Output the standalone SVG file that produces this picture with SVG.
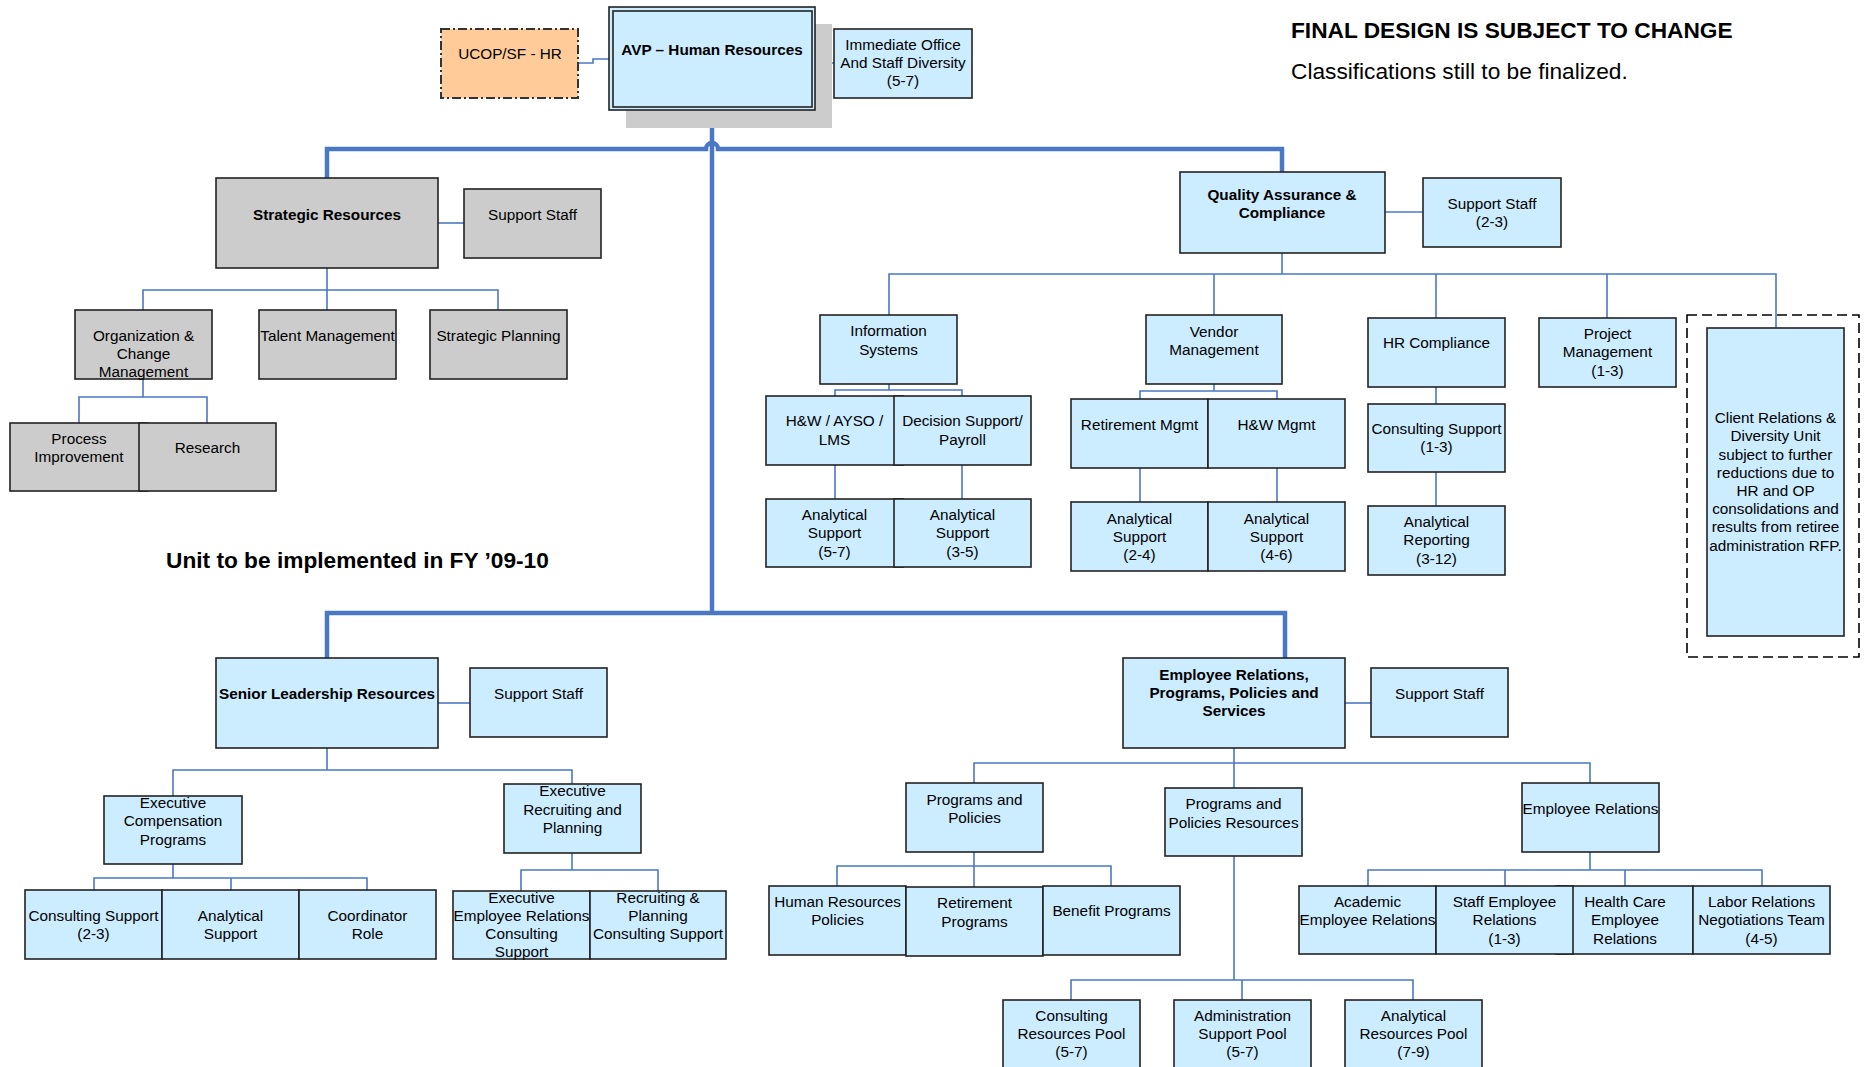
<svg xmlns="http://www.w3.org/2000/svg" width="1865" height="1067" viewBox="0 0 1865 1067">
<style>
text{font-family:"Liberation Sans",Arial,sans-serif;font-size:15.3px;text-anchor:middle;fill:#000}
.b{font-weight:bold}
.big{font-size:22.7px;text-anchor:start}
.n{fill:#CCECFF;stroke:#222;stroke-width:1.6}
.g{fill:#CCCCCC;stroke:#222;stroke-width:1.6}
.thin{fill:none;stroke:#4A78C4;stroke-width:1.6}
.thick{fill:none;stroke:#4A78C4;stroke-width:4.5}
</style>
<rect width="1865" height="1067" fill="#fff"/>
<g id="connectors">
<path class="thick" d="M712,110 V613"/>
<path class="thick" d="M327,178 V149 H706 A6,6 0 0 1 718,149 H1282 V172"/>
<path class="thick" d="M327,658 V613 H1285 V658"/>
<path class="thin" d="M578,63 H593 V59 H609"/>
<path class="thin" d="M815,59 H825 V63 H834"/>
<path class="thin" d="M438,223 H464"/>
<path class="thin" d="M327,268 V310 M143,310 V290 H498 V310"/>
<path class="thin" d="M143,379 V397 M79,423 V397 H207 V423"/>
<path class="thin" d="M1385,212 H1423"/>
<path class="thin" d="M1282,253 V274 M889,315 V274 H1776 V328 M1214,274 V315 M1436,274 V318 M1607,274 V318"/>
<path class="thin" d="M889,384 V390 M835,396 V390 H962 V396 M835,465 V499 M962,465 V499"/>
<path class="thin" d="M1214,384 V391 M1140,399 V391 H1277 V399 M1140,468 V502 M1277,468 V502"/>
<path class="thin" d="M1436,387 V404 M1436,472 V506"/>
<path class="thin" d="M438,703 H470"/>
<path class="thin" d="M327,748 V770 M173,796 V770 H572 V784"/>
<path class="thin" d="M173,864 V878 M94,890 V878 H367 V890 M231,878 V890"/>
<path class="thin" d="M572,853 V870 M521,891 V870 H658 V891"/>
<path class="thin" d="M1345,703 H1371"/>
<path class="thin" d="M1234,748 V788 M974,783 V763 H1590 V783"/>
<path class="thin" d="M974,852 V887 M837,886 V866 H1111 V886"/>
<path class="thin" d="M1234,856 V980 M1071,1000 V980 H1413 V1000 M1242,980 V1000"/>
<path class="thin" d="M1590,852 V870 M1368,886 V870 H1762 V886 M1505,870 V886 M1625,870 V886"/>
</g>
<g id="ucop"><rect x="441" y="29" width="137" height="69" fill="#FFCC99" stroke="#333" stroke-width="2" stroke-dasharray="9,3,2,3"/><text x="510" y="59">UCOP/SF - HR</text></g>
<g id="avp"><rect x="626" y="24" width="206" height="104" fill="#CCCCCC"/><rect x="609" y="7" width="206" height="103" class="n"/><rect x="613" y="11" width="199" height="96" class="n"/><text class="b" x="712" y="54.5">AVP – Human Resources</text></g>
<g id="immediate"><rect x="834" y="29" width="138" height="69" class="n"/><text x="903" y="49.5">Immediate Office</text><text x="903" y="67.5">And Staff Diversity</text><text x="903" y="86">(5-7)</text></g>
<text class="b big" x="1291" y="38">FINAL DESIGN IS SUBJECT TO CHANGE</text>
<text class="big" x="1291" y="79">Classifications still to be finalized.</text>
<g id="strategic"><rect x="216" y="178" width="222" height="90" class="g"/><text class="b" x="327" y="219.5">Strategic Resources</text></g>
<g id="sr-support"><rect x="464" y="189" width="137" height="69" class="g"/><text x="532.5" y="219.5">Support Staff</text></g>
<g id="org-change"><rect x="75" y="310" width="137" height="69" class="g"/><text x="143.5" y="340.5">Organization &amp;</text><text x="143.5" y="358.5">Change</text><text x="143.5" y="376.5">Management</text></g>
<g id="talent"><rect x="259" y="310" width="137" height="69" class="g"/><text x="327.5" y="340.5">Talent Management</text></g>
<g id="strat-planning"><rect x="430" y="310" width="137" height="69" class="g"/><text x="498.5" y="340.5">Strategic Planning</text></g>
<g id="process"><rect x="10" y="423" width="138" height="68" class="g"/><text x="79" y="443.5">Process</text><text x="79" y="461.5">Improvement</text></g>
<g id="research"><rect x="139" y="423" width="137" height="68" class="g"/><text x="207.5" y="452.5">Research</text></g>
<text class="b big" x="166" y="567.5">Unit to be implemented in FY ’09-10</text>
<g id="qa"><rect x="1180" y="172" width="205" height="81" class="n"/><text class="b" x="1282" y="199.5">Quality Assurance &amp;</text><text class="b" x="1282" y="217.5">Compliance</text></g>
<g id="qa-support"><rect x="1423" y="178" width="138" height="69" class="n"/><text x="1492" y="208.5">Support Staff</text><text x="1492" y="226.5">(2-3)</text></g>
<g id="info"><rect x="820" y="315" width="137" height="69" class="n"/><text x="888.5" y="335.5">Information</text><text x="888.5" y="354.5">Systems</text></g>
<g id="hw-ayso"><rect x="766" y="396" width="137" height="69" class="n"/><text x="834.5" y="425.5">H&amp;W / AYSO /</text><text x="834.5" y="444.5">LMS</text></g>
<g id="decision"><rect x="894" y="396" width="137" height="69" class="n"/><text x="962.5" y="425.5">Decision Support/</text><text x="962.5" y="444.5">Payroll</text></g>
<g id="anal-57"><rect x="766" y="499" width="137" height="68" class="n"/><text x="834.5" y="519.5">Analytical</text><text x="834.5" y="537.5">Support</text><text x="834.5" y="556.5">(5-7)</text></g>
<g id="anal-35"><rect x="894" y="499" width="137" height="68" class="n"/><text x="962.5" y="519.5">Analytical</text><text x="962.5" y="537.5">Support</text><text x="962.5" y="556.5">(3-5)</text></g>
<g id="vendor"><rect x="1146" y="315" width="136" height="69" class="n"/><text x="1214" y="336.5">Vendor</text><text x="1214" y="354.5">Management</text></g>
<g id="retire-mgmt"><rect x="1071" y="399" width="137" height="69" class="n"/><text x="1139.5" y="429.5">Retirement Mgmt</text></g>
<g id="hw-mgmt"><rect x="1208" y="399" width="137" height="69" class="n"/><text x="1276.5" y="429.5">H&amp;W Mgmt</text></g>
<g id="anal-24"><rect x="1071" y="502" width="137" height="69" class="n"/><text x="1139.5" y="523.5">Analytical</text><text x="1139.5" y="541.5">Support</text><text x="1139.5" y="559.5">(2-4)</text></g>
<g id="anal-46"><rect x="1208" y="502" width="137" height="69" class="n"/><text x="1276.5" y="523.5">Analytical</text><text x="1276.5" y="541.5">Support</text><text x="1276.5" y="559.5">(4-6)</text></g>
<g id="hr-compliance"><rect x="1368" y="318" width="137" height="69" class="n"/><text x="1436.5" y="347.5">HR Compliance</text></g>
<g id="consult-13"><rect x="1368" y="404" width="137" height="68" class="n"/><text x="1436.5" y="433.5">Consulting Support</text><text x="1436.5" y="451.5">(1-3)</text></g>
<g id="anal-reporting"><rect x="1368" y="506" width="137" height="69" class="n"/><text x="1436.5" y="526.5">Analytical</text><text x="1436.5" y="544.5">Reporting</text><text x="1436.5" y="563.5">(3-12)</text></g>
<g id="project"><rect x="1539" y="318" width="137" height="69" class="n"/><text x="1607.5" y="338.5">Project</text><text x="1607.5" y="356.5">Management</text><text x="1607.5" y="375.5">(1-3)</text></g>
<g id="client"><rect x="1687" y="315" width="172" height="342" fill="none" stroke="#000" stroke-width="1.6" stroke-dasharray="10,5"/><rect x="1707" y="328" width="137" height="308" class="n"/>
<text x="1775.5" y="422.5">Client Relations &amp;</text><text x="1775.5" y="440.5">Diversity Unit</text><text x="1775.5" y="459.5">subject to further</text><text x="1775.5" y="477.5">reductions due to</text><text x="1775.5" y="495.5">HR and OP</text><text x="1775.5" y="513.5">consolidations and</text><text x="1775.5" y="531.5">results from retiree</text><text x="1775.5" y="550.5">administration RFP.</text></g>
<g id="senior"><rect x="216" y="658" width="222" height="90" class="n"/><text class="b" x="327" y="698.5">Senior Leadership Resources</text></g>
<g id="slr-support"><rect x="470" y="668" width="137" height="69" class="n"/><text x="538.5" y="698.5">Support Staff</text></g>
<g id="exec-comp"><rect x="104" y="796" width="138" height="68" class="n"/><text x="173" y="807.5">Executive</text><text x="173" y="825.5">Compensation</text><text x="173" y="844.5">Programs</text></g>
<g id="consult-23"><rect x="25" y="890" width="137" height="69" class="n"/><text x="93.5" y="920.5">Consulting Support</text><text x="93.5" y="938.5">(2-3)</text></g>
<g id="anal-sup"><rect x="162" y="890" width="137" height="69" class="n"/><text x="230.5" y="920.5">Analytical</text><text x="230.5" y="938.5">Support</text></g>
<g id="coordinator"><rect x="299" y="890" width="137" height="69" class="n"/><text x="367.5" y="920.5">Coordinator</text><text x="367.5" y="938.5">Role</text></g>
<g id="exec-rec"><rect x="504" y="784" width="137" height="69" class="n"/><text x="572.5" y="795.5">Executive</text><text x="572.5" y="814.5">Recruiting and</text><text x="572.5" y="832.5">Planning</text></g>
<g id="exec-er"><rect x="453" y="891" width="137" height="68" class="n"/><text x="521.5" y="902.5">Executive</text><text x="521.5" y="920.5">Employee Relations</text><text x="521.5" y="938.5">Consulting</text><text x="521.5" y="956.5">Support</text></g>
<g id="rec-plan"><rect x="590" y="891" width="136" height="68" class="n"/><text x="658" y="902.5">Recruiting &amp;</text><text x="658" y="920.5">Planning</text><text x="658" y="938.5">Consulting Support</text></g>
<g id="erpps"><rect x="1123" y="658" width="222" height="90" class="n"/><text class="b" x="1234" y="679.5">Employee Relations,</text><text class="b" x="1234" y="697.5">Programs, Policies and</text><text class="b" x="1234" y="715.5">Services</text></g>
<g id="erpps-support"><rect x="1371" y="668" width="137" height="69" class="n"/><text x="1439.5" y="698.5">Support Staff</text></g>
<g id="pp"><rect x="906" y="783" width="137" height="69" class="n"/><text x="974.5" y="804.5">Programs and</text><text x="974.5" y="822.5">Policies</text></g>
<g id="ppr"><rect x="1165" y="788" width="137" height="68" class="n"/><text x="1233.5" y="808.5">Programs and</text><text x="1233.5" y="827.5">Policies Resources</text></g>
<g id="er"><rect x="1522" y="783" width="137" height="69" class="n"/><text x="1590.5" y="813.5">Employee Relations</text></g>
<g id="hr-policies"><rect x="769" y="886" width="137" height="69" class="n"/><text x="837.5" y="906.5">Human Resources</text><text x="837.5" y="924.5">Policies</text></g>
<g id="ret-programs"><rect x="906" y="887" width="137" height="69" class="n"/><text x="974.5" y="907.5">Retirement</text><text x="974.5" y="926.5">Programs</text></g>
<g id="benefit"><rect x="1043" y="886" width="137" height="69" class="n"/><text x="1111.5" y="915.5">Benefit Programs</text></g>
<g id="academic"><rect x="1299" y="886" width="137" height="68" class="n"/><text x="1367.5" y="906.5">Academic</text><text x="1367.5" y="924.5">Employee Relations</text></g>
<g id="health"><rect x="1556" y="886" width="137" height="68" class="n"/><text x="1625" y="906.5">Health Care</text><text x="1625" y="924.5">Employee</text><text x="1625" y="943.5">Relations</text></g>
<g id="staff-er"><rect x="1436" y="886" width="137" height="68" class="n"/><text x="1504.5" y="906.5">Staff Employee</text><text x="1504.5" y="924.5">Relations</text><text x="1504.5" y="943.5">(1-3)</text></g>
<g id="labor"><rect x="1693" y="886" width="137" height="68" class="n"/><text x="1761.5" y="906.5">Labor Relations</text><text x="1761.5" y="924.5">Negotiations Team</text><text x="1761.5" y="943.5">(4-5)</text></g>
<g id="consult-pool"><rect x="1003" y="1000" width="137" height="72" class="n"/><text x="1071.5" y="1020.5">Consulting</text><text x="1071.5" y="1038.5">Resources Pool</text><text x="1071.5" y="1056.5">(5-7)</text></g>
<g id="admin-pool"><rect x="1174" y="1000" width="137" height="72" class="n"/><text x="1242.5" y="1020.5">Administration</text><text x="1242.5" y="1038.5">Support Pool</text><text x="1242.5" y="1056.5">(5-7)</text></g>
<g id="anal-pool"><rect x="1345" y="1000" width="137" height="72" class="n"/><text x="1413.5" y="1020.5">Analytical</text><text x="1413.5" y="1038.5">Resources Pool</text><text x="1413.5" y="1056.5">(7-9)</text></g>
</svg>
